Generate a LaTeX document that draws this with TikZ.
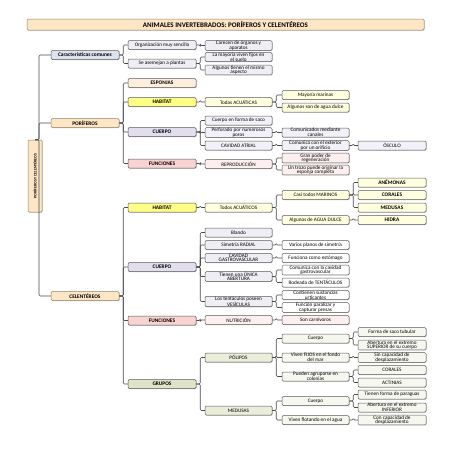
\documentclass[tikz,border=0pt]{standalone}
\usepackage{fontspec}
\setmainfont{Carlito}
\usetikzlibrary{shadows}
\definecolor{cBord}{HTML}{5A5A5A}
\definecolor{cLine}{HTML}{4A4A4A}
\definecolor{cOrange}{HTML}{FDE6C6}
\definecolor{cTitleB}{HTML}{9A8060}
\definecolor{cBlue}{HTML}{DCE3EE}
\definecolor{cGray}{HTML}{EEEEF4}
\definecolor{cPeach}{HTML}{FDEEDD}
\definecolor{cYel}{HTML}{FFFF88}
\definecolor{cLYel}{HTML}{FFFFDF}
\definecolor{cLav}{HTML}{E2DEEE}
\definecolor{cLLav}{HTML}{F2F0F8}
\definecolor{cPink}{HTML}{F9D2D2}
\definecolor{cLPink}{HTML}{FDEFEF}
\definecolor{cGreen}{HTML}{DFE4C8}
\definecolor{cLGreen}{HTML}{EAEDDA}
\definecolor{cLLGreen}{HTML}{F6F8EF}
\newcommand\fsN{\fontsize{5.2}{4.6}\selectfont}
\newcommand\fsB{\fontsize{5.4}{5}\selectfont\bfseries}
\newcommand\fsT{\fontsize{7}{8}\selectfont\bfseries}
\newcommand\fsR{\fontsize{3.9}{4}\selectfont\bfseries}
\newcommand\tree[2]{\foreach \ch in {#2} {\draw[conn] (#1.east) -- ++(4,0) |- (\ch.west);}}
\begin{document}
\begin{tikzpicture}[x=1pt,y=-1pt,
  bx/.style={draw=cBord, line width=0.5pt, rounded corners=1.2pt, inner sep=0.3pt,
    align=center, minimum height=9pt, font=\fsN,
    drop shadow={shadow xshift=0.6pt, shadow yshift=-0.6pt, opacity=0.25, fill=black}},
  la/.style={bx, minimum width=68pt},
  lb/.style={bx, minimum width=67pt},
  bold/.style={font=\fsB},
  conn/.style={draw=cLine, line width=0.6pt, rounded corners=1.2pt}]
\fill[white] (0,0) rectangle (453,453);
\useasboundingbox (0,0) rectangle (453,453);

% title and root
\node[bx, draw=cTitleB, fill=cOrange, minimum width=397pt, minimum height=11pt, font=\fsT] (title) at (225.5,24.5) {ANIMALES INVERTEBRADOS: PORÍFEROS Y CELENTÉREOS};
\node[bx, draw=cTitleB, fill=cOrange, rotate=90, minimum width=72pt, minimum height=14pt, font=\fsR] (root) at (35,176) {PORÍFEROS Y CELENTÉREOS};

% level 1
\node[la, fill=cBlue, bold] (cc) at (85,55) {Características comunes};
\node[la, draw=cTitleB, fill=cOrange, bold] (por) at (85,123) {PORÍFEROS};
\node[la, draw=cTitleB, fill=cOrange, bold] (cel) at (85,296) {CELENTÉREOS};

% level 2
\node[la, fill=cGray] (org) at (162,45) {Organización muy sencilla};
\node[la, fill=cGray] (ase) at (162,63.5) {Se asemejan a plantas};
\node[la, fill=cPeach, bold] (esp) at (162,83) {ESPONJAS};
\node[la, fill=cYel, bold] (phab) at (162,102) {HABITAT};
\node[la, fill=cLav, bold] (pcue) at (162,132) {CUERPO};
\node[la, fill=cPink, bold] (pfun) at (162,163.5) {FUNCIONES};
\node[la, fill=cYel, bold] (chab) at (162,207.5) {HABITAT};
\node[la, fill=cLav, bold] (ccue) at (162,267) {CUERPO};
\node[la, fill=cPink, bold] (cfun) at (162,320.5) {FUNCIONES};
\node[la, fill=cGreen, bold] (cgru) at (162,384) {GRUPOS};

% level 3
\node[lb, fill=cGray] (car) at (238.5,45.5) {Carecen de órganos y\\aparatos};
\node[lb, fill=cGray] (may) at (238.5,57) {La mayoría viven fijos en\\el suelo};
\node[lb, fill=cGray] (alg) at (238.5,70) {Algunos tienen el mismo\\aspecto};
\node[lb, fill=cLYel] (tac) at (238.5,102) {Todas ACUÁTICAS};
\node[lb, fill=cLLav] (saco) at (238.5,120.5) {Cuerpo en forma de saco};
\node[lb, fill=cLLav] (perf) at (238.5,132.5) {Perforado por numerosos\\poros};
\node[lb, fill=cLLav] (cav) at (238.5,145.5) {CAVIDAD ATRIAL};
\node[lb, fill=cLPink] (rep) at (238.5,164) {REPRODUCCIÓN};
\node[lb, fill=cLYel] (tac2) at (238.5,207.5) {Todos ACUÁTICOS};
\node[lb, fill=cGray] (bla) at (238.5,232.5) {Blando};
\node[lb, fill=cGray] (sim) at (238.5,245) {Simetría RADIAL};
\node[lb, fill=cGray] (cgv) at (238.5,258) {CAVIDAD\\GASTROVASCULAR};
\node[lb, fill=cGray] (una) at (238.5,276.5) {Tienen una ÚNICA\\ABERTURA};
\node[lb, fill=cGray] (ves) at (238.5,301.5) {Los tentáculos poseen\\VESÍCULAS};
\node[lb, fill=cLPink] (nut) at (238.5,320) {NUTRICIÓN};
\node[lb, fill=cLGreen] (pol) at (238.5,357.5) {PÓLIPOS};
\node[lb, fill=cLGreen] (med) at (238.5,410.5) {MEDUSAS};

% level 4
\node[lb, fill=cLYel] (mar) at (315.5,95) {Mayoría marinas};
\node[lb, fill=cLYel] (dul) at (315.5,107.5) {Algunos son de agua dulce};
\node[lb, fill=cLLav] (comc) at (315.5,132.5) {Comunicados mediante\\canales};
\node[lb, fill=cLLav] (comex) at (315.5,145.5) {Comunica con el exterior\\por un orificio};
\node[lb, fill=cLPink] (gran) at (315.5,158) {Gran poder de\\regeneración};
\node[lb, fill=cLPink] (trozo) at (315.5,170) {Un trozo puede originar la\\esponja completa};
\node[lb, fill=cLYel] (casi) at (315.5,195) {Casi todos MARINOS};
\node[lb, fill=cLYel] (agua) at (315.5,220) {Algunos de AGUA DULCE};
\node[lb, fill=white] (var) at (315.5,245) {Varios planos de simetría};
\node[lb, fill=white] (est) at (315.5,258) {Funciona como estómago};
\node[lb, fill=white] (comcav) at (315.5,270) {Comunica con la cavidad\\gastrovascular};
\node[lb, fill=white] (rod) at (315.5,282.5) {Rodeada de TENTÁCULOS};
\node[lb, fill=white] (cont) at (315.5,295) {Contienen sustancias\\urticantes};
\node[lb, fill=white] (func) at (315.5,307.5) {Función paralizar y\\capturar presas};
\node[lb, fill=cLPink] (carn) at (315.5,320) {Son carnívoros};
\node[lb, fill=cLLGreen] (pcu) at (315.5,338.5) {Cuerpo};
\node[lb, fill=cLLGreen] (fij) at (315.5,357.5) {Viven FIJOS en el fondo\\del mar};
\node[lb, fill=cLLGreen] (agr) at (315.5,376.5) {Pueden agruparse en\\colonias};
\node[lb, fill=cLLGreen] (mcu) at (315.5,401) {Cuerpo};
\node[lb, fill=cLLGreen] (flo) at (315.5,420) {Viven flotando en el agua};

% level 5
\node[la, fill=cLLav] (osc) at (392,145.5) {ÓSCULO};
\node[la, fill=cLYel, bold] (ane) at (392,182.5) {ANÉMONAS};
\node[la, fill=cLYel, bold] (cor) at (392,195) {CORALES};
\node[la, fill=cLYel, bold] (medu) at (392,207.5) {MEDUSAS};
\node[la, fill=cLYel, bold] (hid) at (392,220) {HIDRA};
\node[la, fill=cLLGreen] (tub) at (392,332) {Forma de saco tubular};
\node[la, fill=cLLGreen] (absup) at (392,345) {Abertura en el extremo\\SUPERIOR de su cuerpo};
\node[la, fill=cLLGreen] (sin) at (392,357.5) {Sin capacidad de\\desplazamiento};
\node[la, fill=cLLGreen] (cor2) at (392,370) {CORALES};
\node[la, fill=cLLGreen] (act) at (392,382.5) {ACTINIAS};
\node[la, fill=cLLGreen] (par) at (392,394.5) {Tienen forma de paraguas};
\node[la, fill=cLLGreen] (abinf) at (392,407.5) {Abertura en el extremo\\INFERIOR};
\node[la, fill=cLLGreen] (conc) at (392,420) {Con capacidad de\\desplazamiento};

% connectors
\tree{root}{cc,por,cel}
\tree{cc}{org,ase}
\tree{por}{esp,phab,pcue,pfun}
\tree{cel}{chab,ccue,cfun,cgru}
\tree{org}{car}
\tree{ase}{may,alg}
\tree{phab}{tac}
\tree{pcue}{saco,perf,cav}
\tree{pfun}{rep}
\tree{chab}{tac2}
\tree{ccue}{bla,sim,cgv,una,ves}
\tree{cfun}{nut}
\tree{cgru}{pol,med}
\tree{tac}{mar,dul}
\tree{perf}{comc}
\tree{cav}{comex}
\tree{rep}{gran,trozo}
\tree{tac2}{casi,agua}
\tree{sim}{var}
\tree{cgv}{est}
\tree{una}{comcav,rod}
\tree{ves}{cont,func}
\tree{nut}{carn}
\tree{pol}{pcu,fij,agr}
\tree{med}{mcu,flo}
\tree{comex}{osc}
\tree{casi}{ane,cor,medu}
\tree{agua}{hid}
\tree{pcu}{tub,absup}
\tree{fij}{sin}
\tree{agr}{cor2,act}
\tree{mcu}{par,abinf}
\tree{flo}{conc}
\end{tikzpicture}
\end{document}
